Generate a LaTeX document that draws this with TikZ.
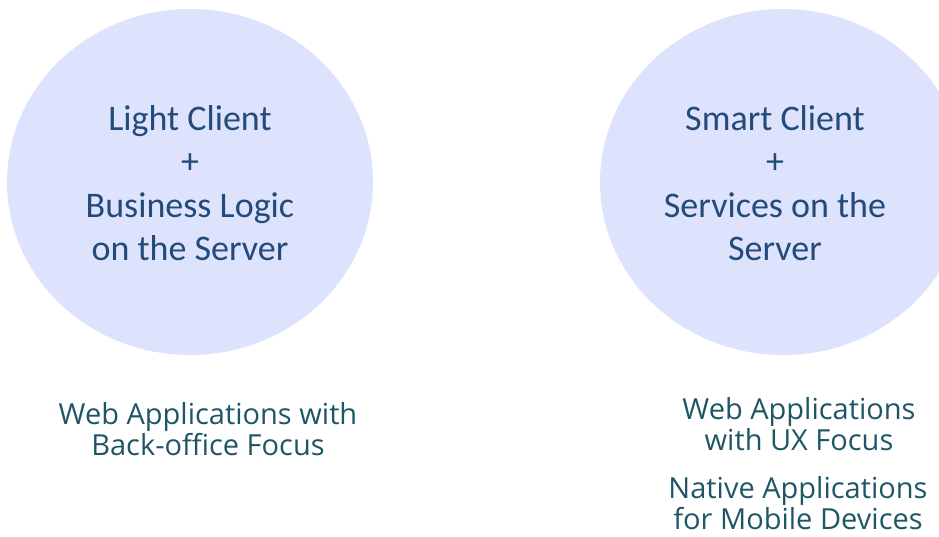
\documentclass[tikz,border=0pt]{standalone}
\usepackage{fontspec}
\setmainfont{Carlito}
\newfontfamily\appfont{Open Sans}
\usetikzlibrary{shapes.geometric,positioning}
\definecolor{bubblefill}{HTML}{DDE3FC}
\definecolor{bubbletext}{HTML}{234A7A}
\definecolor{apptext}{HTML}{1F5666}

\begin{document}
\begin{tikzpicture}[x=1pt,y=-1pt,
  bubble/.style={ellipse, fill=bubblefill, draw=none, minimum width=366pt, minimum height=346pt, inner sep=0pt},
  bubbletxt/.style={align=center, text=bubbletext, font=\fontsize{36}{43.5}\selectfont},
  apptxt/.style={align=center, text=apptext, font=\appfont\fontsize{29}{31.5}\selectfont}]
\useasboundingbox (0,0) rectangle (939,537);

% the two circles
\node[bubble] (light) at (190,182) {};
\node[bubble] (smart) at (783,182) {};

\node[bubbletxt] (light_txt) at (190,183) {Light Client\\+\\Business Logic\\on the Server};
\node[bubbletxt] (smart_txt) at (775,183) {Smart Client\\+\\Services on the\\Server};

% what each one is for
\node[apptxt] (web_bo) at (208,429) {Web Applications with\\Back-office Focus};
\node[apptxt] (web_ux) at (799,424) {Web Applications\\with UX Focus};
\node[apptxt] (native) at (798,503) {Native Applications\\for Mobile Devices};
\end{tikzpicture}
\end{document}
